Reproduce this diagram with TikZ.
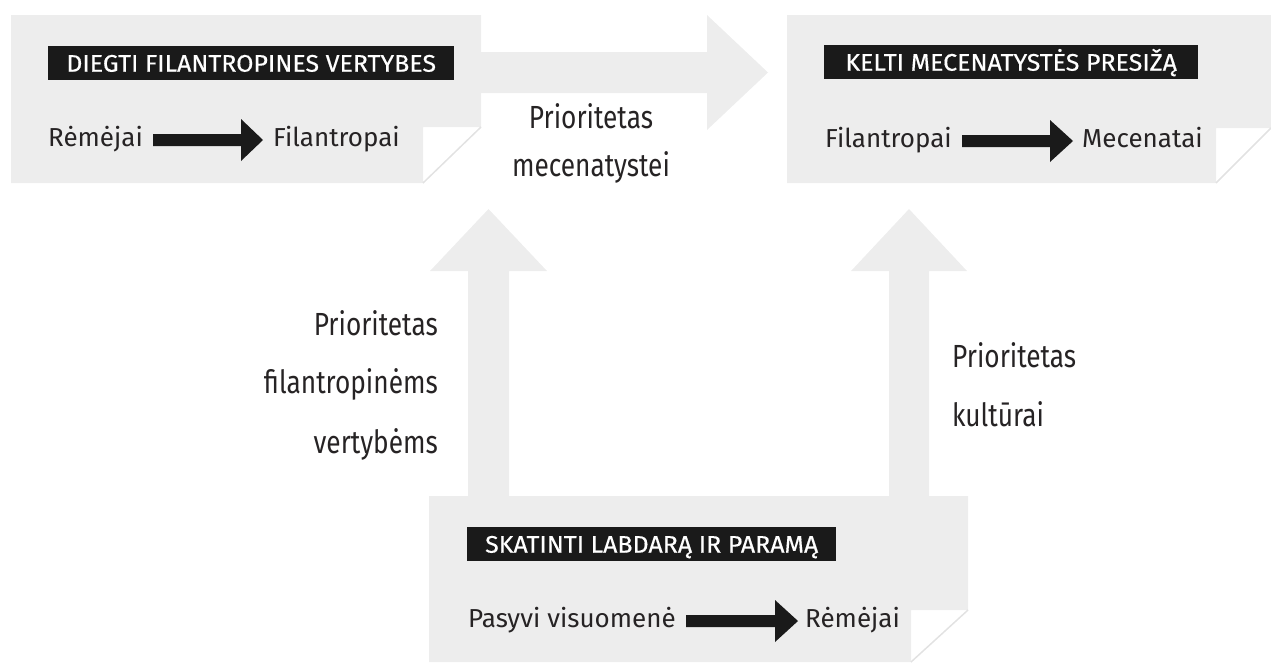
\documentclass[tikz,border=0pt]{standalone}
\usepackage{fontspec}
\setmainfont{Fira Sans}
\newfontfamily\bodyfont{Fira Sans}[FakeStretch=1.0]
\newfontfamily\priofont{Fira Sans}[FakeStretch=0.82]
\newfontfamily\lblfont{Fira Sans}[FakeStretch=1.04,FakeBold=0.4]
\definecolor{boxgray}{HTML}{EDEDED}
\definecolor{lblblack}{HTML}{1A1A1A}
\definecolor{txt}{HTML}{262324}
\definecolor{foldline}{HTML}{E2E2E2}
\begin{document}
\begin{tikzpicture}[x=1pt,y=-1pt,
  panel/.style={fill=boxgray},
  fold/.style={draw=foldline,line width=1.5pt},
  lbl/.style={fill=lblblack,text=white,font=\lblfont\fontsize{24}{24}\selectfont,inner sep=0pt,minimum height=34pt,text height=17pt,text depth=0pt,anchor=north west},
  body/.style={text=txt,font=\bodyfont\fontsize{26}{30}\selectfont,inner sep=0pt},
  prio/.style={text=txt,font=\priofont\fontsize{32}{36}\selectfont,inner sep=0pt},
  blackarrow/.style={fill=lblblack},
  bigarrow/.style={fill=boxgray}]
\useasboundingbox (0,0) rectangle (1271,662);

% big grey arrows
\fill[bigarrow] (480,52) -- (707,52) -- (707,15) -- (768,72.5) -- (707,130) -- (707,93) -- (480,93) -- cycle;
\fill[bigarrow] (468,497) -- (468,271) -- (430,271) -- (488.5,209) -- (547,271) -- (509,271) -- (509,497) -- cycle;
\fill[bigarrow] (889,497) -- (889,271) -- (851,271) -- (909,209) -- (967,271) -- (929,271) -- (929,497) -- cycle;

% panels
\fill[panel] (11,15) -- (481,15) -- (481,127) -- (423,127) -- (423,183) -- (11,183) -- cycle;
\draw[fold] (481,127) -- (423,183);
\fill[panel] (787,15) -- (1271,15) -- (1271,128) -- (1216,128) -- (1216,183) -- (787,183) -- cycle;
\draw[fold] (1271,128) -- (1216,183);
\fill[panel] (429,496) -- (968,496) -- (968,610) -- (911,610) -- (911,662) -- (429,662) -- cycle;
\draw[fold] (968,610) -- (911,662);

% labels
\node[lbl,minimum width=406pt] (labA) at (48,46) {DIEGTI FILANTROPINES VERTYBES};
\node[lbl,minimum width=374pt] (labB) at (824,45) {KELTI MECENATYSTĖS PRESIŽĄ};
\node[lbl,minimum width=369pt] (labC) at (467,527) {SKATINTI LABDARĄ IR PARAMĄ};

% body texts
\node[body,anchor=base west] (remA) at (48,146) {Rėmėjai};
\node[body,anchor=base west] (filA) at (273,146) {Filantropai};
\fill[blackarrow] (153,134) -- ++(88,0) -- ++(0,-15) -- ++(22,21) -- ++(-22,21) -- ++(0,-15) -- ++(-88,0) -- cycle;

\node[body,anchor=base west] (filB) at (825,147) {Filantropai};
\node[body,anchor=base west] (mecB) at (1082,147) {Mecenatai};
\fill[blackarrow] (962,135) -- ++(88,0) -- ++(0,-15) -- ++(23,21) -- ++(-23,21) -- ++(0,-15) -- ++(-88,0) -- cycle;

\node[body,anchor=base west] (pasC) at (468,627) {Pasyvi visuomenė};
\node[body,anchor=base west] (remC) at (805,627) {Rėmėjai};
\fill[blackarrow] (686,615) -- ++(89,0) -- ++(0,-15) -- ++(23,21) -- ++(-23,21) -- ++(0,-15) -- ++(-89,0) -- cycle;

% priority texts
\node[prio,anchor=base] (pm1) at (591,128) {Prioritetas};
\node[prio,anchor=base] (pm2) at (591,176) {mecenatystei};
\node[prio,anchor=base east] (pf1) at (438,335) {Prioritetas};
\node[prio,anchor=base east] (pf2) at (438,393) {filantropinėms};
\node[prio,anchor=base east] (pf3) at (438,453) {vertybėms};
\node[prio,anchor=base west] (pk1) at (952,367) {Prioritetas};
\node[prio,anchor=base west] (pk2) at (952,426) {kultūrai};
\end{tikzpicture}
\end{document}
